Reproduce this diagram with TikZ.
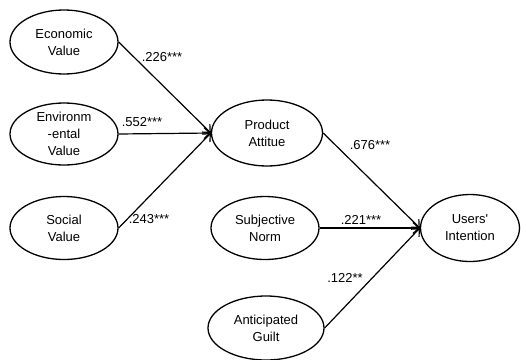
\documentclass[tikz,border=0pt]{standalone}
\usepackage{fontspec}
\setmainfont{Liberation Sans}[Ligatures=TeXOff]
\usetikzlibrary{arrows.meta,shapes.geometric,positioning}
\tikzset{
  latent/.style = {draw, ellipse, line width=1.3pt, inner sep=0pt, align=center,
                   minimum width=108pt, minimum height=62pt,
                   font=\fontsize{13}{17}\selectfont},
  coef/.style   = {inner sep=0pt, font=\fontsize{13}{15}\selectfont}
}

\begin{document}
\begin{tikzpicture}[x=1pt, y=-1pt,
  every path/.style={line width=1.2pt},
  >={Straight Barb[length=6pt,width=11pt]}]
\useasboundingbox (0,0) rectangle (526,359);

% exogenous constructs, left column
\node[latent, minimum height=64pt] (ev)  at (64,42)  {Economic\\Value};
\node[latent] (env) at (64,134) {Environm\\-ental\\Value};
\node[latent, minimum height=63pt] (sv) at (64,228) {Social\\Value};

% mediator and the other predictors
\node[latent, minimum width=111pt, minimum height=66pt] (pa) at (267,133) {Product\\Attitue};
\node[latent, minimum height=63pt] (sn) at (265,228) {Subjective\\Norm};
\node[latent, minimum width=116pt, minimum height=64pt] (ag) at (266,328) {Anticipated\\Guilt};

% outcome
\node[latent, minimum width=99pt, minimum height=67pt] (ui) at (470,228) {Users'\\Intention};

% paths into the attitude and into the intention
\foreach \value in {ev,env,sv}
  \draw[->] (\value.east) -- (pa.west);

\foreach \value in {pa,sn,ag}
  \draw[->] (\value.east) -- (ui.west);

% path coefficients
\node[coef] (c1) at (162,57)  {.226***};
\node[coef] (c2) at (142,122) {.552***};
\node[coef] (c3) at (149,219) {.243***};
\node[coef] (c4) at (370,145) {.676***};
\node[coef] (c5) at (361,220) {.221***};
\node[coef] (c6) at (345,278) {.122**};
\end{tikzpicture}
\end{document}
